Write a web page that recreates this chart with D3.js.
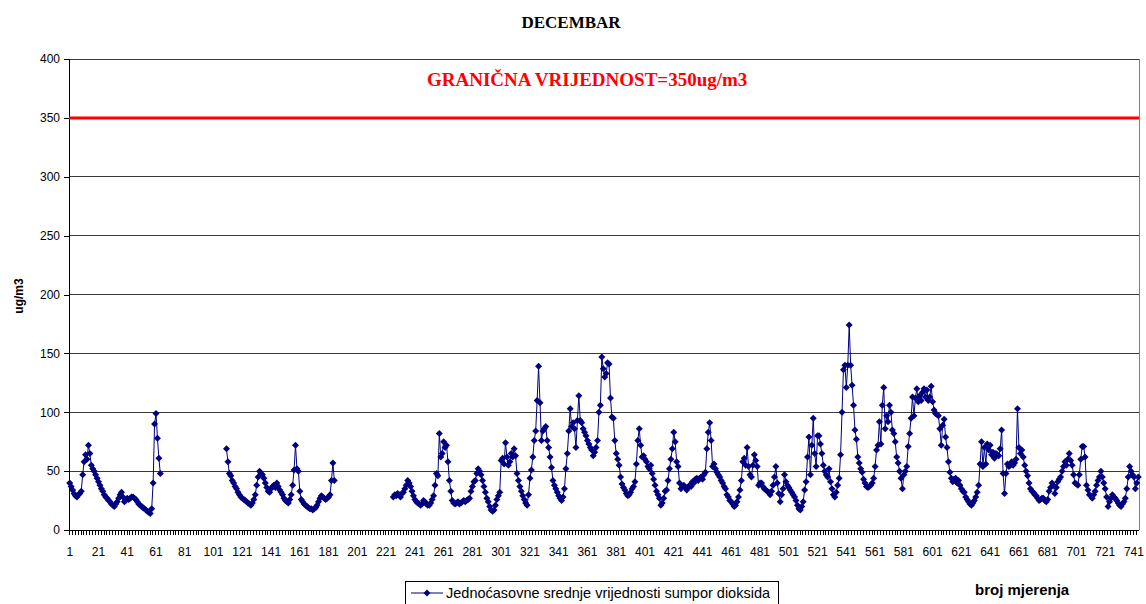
<!DOCTYPE html>
<html><head><meta charset="utf-8">
<script src="https://cdn.jsdelivr.net/npm/d3@7"></script>
<style>body{margin:0;background:#fff}svg{display:block}</style>
</head><body><div id="chart"></div>
<script>
// ---- data ----
const title = "DECEMBAR";
const limitValue = 350;
const limitLabel = "GRANIČNA VRIJEDNOST=350ug/m3";
const seriesName = "Jednoćasovne srednje vrijednosti sumpor dioksida";
const yLabel = "ug/m3";
const xLabel = "broj mjerenja";
const nHours = 744;
const yTicks = [0, 50, 100, 150, 200, 250, 300, 350, 400];
const xTickLabels = [1,21,41,61,81,101,121,141,161,181,201,221,241,261,281,301,321,341,361,381,401,421,441,461,481,501,521,541,561,581,601,621,641,661,681,701,721,741];

// hourly values, segment 1 starts at hour 1
const seg1Start = 1;
const seg1 = [
 40,37,34,31,29,28,30,31,33,47,
 58,64,60,72,65,55,52,50,47,44,
 41,38,35,33,30,28,27,25,24,22,
 21,20,22,24,27,30,32,28,24,25,
 27,26,27,28,28,27,26,24,22,21,
 20,19,18,17,16,15,14,18,40,90,
 99,78,61,48];
// segment 2 starts at hour 110
const seg2Start = 110;
const seg2 = [
 69,58,48,46,42,40,37,35,32,30,
 28,27,26,25,24,23,22,21,23,26,
 30,38,45,50,48,47,44,40,36,33,
 32,35,37,38,36,40,37,34,32,30,
 27,25,24,23,26,30,38,51,72,52,
 50,33,26,24,22,21,20,19,18,18,
 17,18,19,21,24,27,29,28,27,26,
 27,28,30,42,57,42];
// segment 3 starts at hour 226
const seg3Start = 226;
const seg3 = [
 28,30,29,31,30,28,31,32,35,38,
 42,40,37,33,29,26,24,23,22,21,
 22,25,24,22,21,21,23,26,29,38,
 48,46,82,62,65,75,70,72,58,42,
 33,25,23,22,23,24,22,23,24,25,
 24,25,26,27,33,37,41,42,48,52,
 50,47,42,37,32,27,24,20,17,16,
 17,21,26,29,32,59,61,56,74,62,
 55,58,65,62,69,63,48,42,37,33,
 29,26,23,21,30,44,51,62,76,84,
 110,139,108,76,84,86,88,76,70,62,
 53,42,38,35,32,29,27,25,28,35,
 52,65,84,103,88,91,86,70,93,114,
 93,91,86,83,80,76,73,70,68,63,
 66,70,76,100,106,147,137,130,133,142,
 141,112,96,95,76,65,60,55,45,39,
 36,34,31,29,30,32,35,37,41,56,
 76,86,72,62,63,60,58,54,52,55,
 48,43,38,33,30,27,21,23,27,33,
 34,42,52,60,69,83,75,58,54,40,
 35,37,38,36,34,36,38,37,41,40,
 43,44,42,44,45,43,47,49,69,83,
 91,76,54,56,52,49,47,45,42,40,
 37,35,30,28,25,24,22,20,21,24,
 28,34,42,58,61,55,70,54,47,45,
 55,64,59,54,38,40,40,37,35,34,
 33,32,30,33,38,45,54,40,31,24,
 30,35,47,41,38,36,34,32,30,28,
 25,21,18,17,20,24,34,41,62,79,
 47,72,95,65,54,80,80,73,65,55,
 50,47,45,52,41,35,30,28,32,38,
 44,64,100,136,140,121,140,174,140,123,
 106,85,77,62,57,52,49,43,40,37,
 36,37,38,40,44,54,68,72,92,73,
 106,121,86,97,92,106,100,85,82,75,
 62,57,50,44,35,47,50,54,71,82,
 95,113,97,112,120,109,114,110,117,120,
 113,119,110,113,122,109,102,99,98,97,
 86,72,89,94,79,70,58,49,44,41,
 43,44,40,42,38,35,33,32,28,26,
 24,22,21,23,25,28,32,38,56,75,
 54,70,56,73,68,72,64,66,61,65,
 64,63,69,85,48,31,48,56,54,55,
 58,55,57,60,103,70,65,68,62,55,
 50,46,40,35,33,32,30,29,27,25,
 26,27,27,25,24,26,33,36,40,38,
 31,36,41,43,45,50,54,58,55,60,
 65,59,55,47,40,39,38,47,60,71,
 71,62,38,34,30,29,27,30,33,38,
 42,45,50,45,40,35,28,20,24,27,
 30,28,27,25,23,21,20,22,24,27,
 35,45,54,50,47,45,35,40,45];

// build full series (null = missing measurement)
const hours = d3.range(1, nHours + 1);
const values = hours.map(() => null);
[[seg1Start, seg1], [seg2Start, seg2], [seg3Start, seg3]].forEach(([s, arr]) => {
  arr.forEach((v, i) => { values[s - 1 + i] = v; });
});
const data = hours.map((h, i) => ({h, v: values[i]}));

// ---- layout ----
const W = 1146, H = 604;
const L = 69, R = 1139, T = 59, B = 530;
const navy = "#000080";

const svg = d3.select("#chart").append("svg").attr("width", W).attr("height", H)
  .style("font-family", "'Liberation Sans', Arial, sans-serif");

const x = d3.scaleBand().domain(hours).range([L, R]).paddingInner(0).paddingOuter(0);
const xc = h => x(h) + x.bandwidth() / 2;
const y = d3.scaleLinear().domain([0, 400]).range([B, T]);

// gridlines
svg.append("g").selectAll("line").data(yTicks.filter(t => t > 0)).join("line")
  .attr("x1", L).attr("x2", R).attr("y1", d => y(d)).attr("y2", d => y(d))
  .attr("stroke", "#3a3a3a").attr("stroke-width", 1).attr("shape-rendering", "crispEdges");
// right border
svg.append("line").attr("x1", R).attr("x2", R).attr("y1", T).attr("y2", B)
  .attr("stroke", "#808080").attr("shape-rendering", "crispEdges");

// y axis
const yAxis = svg.append("g").attr("transform", `translate(${L},0)`)
  .call(d3.axisLeft(y).tickValues(yTicks).tickSize(5).tickPadding(4));
yAxis.select(".domain").attr("stroke", "#000").attr("shape-rendering", "crispEdges");
yAxis.selectAll(".tick line").attr("stroke", "#000").attr("shape-rendering", "crispEdges");
yAxis.selectAll("text").attr("font-size", 12).attr("fill", "#000")
  .attr("font-family", "'Liberation Sans', Arial, sans-serif");

// x axis line
svg.append("line").attr("x1", L).attr("x2", R).attr("y1", B).attr("y2", B)
  .attr("stroke", "#000").attr("shape-rendering", "crispEdges");
// x minor ticks (every 2 categories, at category boundaries)
svg.append("g").selectAll("line").data(hours.filter(h => h % 2 === 1)).join("line")
  .attr("x1", d => Math.round(x(d)) + 0.5).attr("x2", d => Math.round(x(d)) + 0.5)
  .attr("y1", B).attr("y2", B + 5).attr("stroke", "#000").attr("stroke-width", 1);
// x labels
const xAxis = svg.append("g").attr("transform", `translate(0,${B})`)
  .call(d3.axisBottom(x).tickValues(xTickLabels).tickSize(0).tickPadding(17));
xAxis.select(".domain").remove();
xAxis.selectAll("text").attr("font-size", 12).attr("fill", "#000")
  .attr("font-family", "'Liberation Sans', Arial, sans-serif");

// limit line
svg.append("line").attr("x1", L).attr("x2", R)
  .attr("y1", y(limitValue)).attr("y2", y(limitValue))
  .attr("stroke", "#ff0000").attr("stroke-width", 3);

// series line
const line = d3.line().defined(d => d.v != null).x(d => xc(d.h)).y(d => y(d.v));
svg.append("path").datum(data).attr("d", line)
  .attr("fill", "none").attr("stroke", navy).attr("stroke-width", 1);

// markers
const diamond = "M0,-3.5L3.5,0L0,3.5L-3.5,0Z";
svg.append("g").selectAll("path").data(data.filter(d => d.v != null)).join("path")
  .attr("d", diamond)
  .attr("transform", d => `translate(${xc(d.h)},${y(d.v)})`)
  .attr("fill", navy);

// title
svg.append("text").attr("x", 571).attr("y", 28).attr("text-anchor", "middle")
  .attr("font-family", "'Liberation Serif', 'Times New Roman', serif")
  .attr("font-weight", "bold").attr("font-size", 17).text(title);

// limit label
svg.append("text").attr("x", 427).attr("y", 86)
  .attr("font-family", "'Liberation Serif', 'Times New Roman', serif")
  .attr("font-weight", "bold").attr("font-size", 19).attr("fill", "#ff0000").text(limitLabel);

// y label
svg.append("text").attr("transform", "translate(23,296) rotate(-90)")
  .attr("text-anchor", "middle").attr("font-weight", "bold").attr("font-size", 12).text(yLabel);

// x label
svg.append("text").attr("x", 975).attr("y", 595)
  .attr("font-weight", "bold").attr("font-size", 15).text(xLabel);

// legend
const lg = svg.append("g").attr("transform", "translate(405,581)");
lg.append("rect").attr("x", 0.5).attr("y", 0.5).attr("width", 373).attr("height", 23)
  .attr("fill", "#fff").attr("stroke", "#000");
lg.append("line").attr("x1", 6).attr("x2", 38).attr("y1", 12).attr("y2", 12)
  .attr("stroke", navy).attr("stroke-width", 1);
lg.append("path").attr("d", diamond).attr("transform", "translate(22,12)").attr("fill", navy);
lg.append("text").attr("x", 41).attr("y", 17).attr("font-size", 14.5).text(seriesName);
</script>
</body></html>
